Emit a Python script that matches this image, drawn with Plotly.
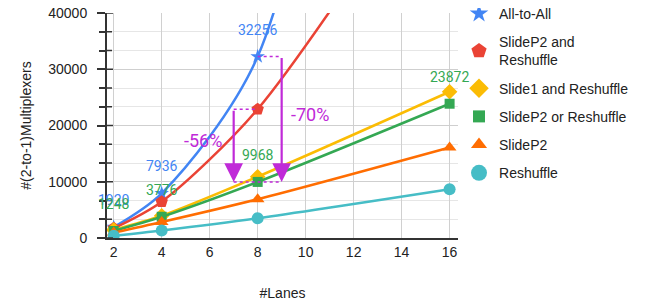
import plotly.graph_objects as go

lanes = [2, 4, 8, 16]
all_to_all = [1920, 7936, 32256, 190000]
slidep2_and_reshuffle = [1728, 6450, 22900, 72000]
slide1_and_reshuffle = [1440, 3950, 10900, 26000]
slidep2_or_reshuffle = [1248, 3776, 9968, 23872]
slidep2 = [960, 2850, 6900, 16100]
reshuffle = [400, 1350, 3500, 8650]

series_names = ["All-to-All", "SlideP2 and<br>Reshuffle", "Slide1 and Reshuffle",
                "SlideP2 or Reshuffle", "SlideP2", "Reshuffle"]
series_values = [all_to_all, slidep2_and_reshuffle, slide1_and_reshuffle,
                 slidep2_or_reshuffle, slidep2, reshuffle]
colors = ["#4285F4", "#EA4335", "#FBBC04", "#34A853", "#FF6D01", "#46BDC6"]
symbols = ["star", "pentagon", "diamond", "square", "triangle-up", "circle"]
msizes = [11, 13, 12, 10, 12, 12]
legend_sizes = [14, 16, 15, 12, 14, 16]

reduction_labels = ["-56%", "-70%"]
y_ticks = [0, 10000, 20000, 30000, 40000]

fig = go.Figure()
for i, (name, vals) in enumerate(zip(series_names, series_values)):
    fig.add_trace(go.Scatter(
        x=lanes, y=vals, name=name, mode="lines+markers",
        line=dict(color=colors[i], width=2.5, shape="spline", smoothing=0.8),
        marker=dict(symbol=symbols[i], size=msizes[i], color=colors[i]),
        showlegend=False, legendgroup=f"g{i}",
    ))
# legend entries (marker only)
for i, name in enumerate(series_names):
    fig.add_trace(go.Scatter(
        x=[None], y=[None], name=name, mode="markers",
        marker=dict(symbol=symbols[i], size=legend_sizes[i], color=colors[i]),
        legendgroup=f"g{i}", hoverinfo="skip",
    ))

ymax = 40000
# data labels
for x, v in zip(lanes, all_to_all):
    if v <= ymax:
        fig.add_annotation(x=x, y=v, text=str(v), showarrow=False, yshift=27,
                           font=dict(family="Roboto", size=14, color=colors[0]))
for x, v in zip(lanes, slidep2_or_reshuffle):
    fig.add_annotation(x=x, y=v, text=str(v), showarrow=False, yshift=27,
                       font=dict(family="Roboto", size=14, color=colors[3]))

purple = "#C02AD8"
x8 = lanes[2]
red8 = slidep2_and_reshuffle[2]
blue8 = all_to_all[2]
green8 = slidep2_or_reshuffle[2]
# dotted guides
fig.add_shape(type="line", x0=x8 - 1, x1=x8, y0=red8, y1=red8,
              line=dict(color=purple, width=1.5, dash="dot"))
fig.add_shape(type="line", x0=x8, x1=x8 + 1, y0=blue8, y1=blue8,
              line=dict(color=purple, width=1.5, dash="dot"))
fig.add_shape(type="line", x0=x8 - 1, x1=x8 + 1, y0=green8, y1=green8,
              line=dict(color=purple, width=1.5, dash="dot"))
# arrows
fig.add_annotation(x=x8 - 1, y=green8, ax=x8 - 1, ay=red8, axref="x", ayref="y",
                   xref="x", yref="y", showarrow=True, arrowhead=2, arrowsize=1.7,
                   arrowwidth=2.2, arrowcolor=purple, text="")
fig.add_annotation(x=x8 + 1, y=green8, ax=x8 + 1, ay=blue8, axref="x", ayref="y",
                   xref="x", yref="y", showarrow=True, arrowhead=2, arrowsize=1.7,
                   arrowwidth=2.2, arrowcolor=purple, text="")
fig.add_annotation(x=5.72, y=17420, text=reduction_labels[0], showarrow=False,
                   font=dict(family="Roboto", size=18, color=purple))
fig.add_annotation(x=10.2, y=21900, text=reduction_labels[1], showarrow=False,
                   font=dict(family="Roboto", size=18, color=purple))

# inner halves of the crossing y-axis ticks (major + minor)
step = y_ticks[1] - y_ticks[0]
inner_ticks = []
for t in y_ticks:
    inner_ticks.append((t, 6))
    if t + step <= ymax:
        inner_ticks.append((t + step / 3, 5))
        inner_ticks.append((t + 2 * step / 3, 5))
for t, ln in inner_ticks:
    fig.add_shape(type="line", xref="paper", yref="y", x0=0, x1=ln / 351, y0=t, y1=t,
                  line=dict(color="#333333", width=1.5), layer="above")

axis_font = dict(family="Liberation Sans, Arial", size=14, color="#222222")
fig.update_layout(
    width=664, height=306,
    margin=dict(l=99, r=214, t=5, b=76, autoexpand=False),
    paper_bgcolor="white", plot_bgcolor="white",
    font=axis_font,
    xaxis=dict(
        range=[1.72, 16.35], tickvals=[2, 4, 6, 8, 10, 12, 14, 16],
        showgrid=True, gridcolor="#d0d0d0", gridwidth=1, zeroline=False,
        showline=True, linecolor="#333333", linewidth=1.5, ticks="",
        title=dict(text="#Lanes", standoff=30, font=axis_font),
        tickfont=axis_font,
    ),
    yaxis=dict(
        range=[0, ymax], tickvals=y_ticks, tickformat="d",
        ticklabeloverflow="allow",
        showgrid=True, gridcolor="#cfcfcf", gridwidth=1, zeroline=False,
        showline=True, linecolor="#333333", linewidth=2,
        ticks="outside", ticklen=8, tickwidth=1.5, tickcolor="#333333",
        ticklabelstandoff=7,
        minor=dict(dtick=10000 / 3, ticks="outside", ticklen=6, tickcolor="#333333",
                   tickwidth=1.5, showgrid=True, gridcolor="#e6e6e6", gridwidth=1),
        title=dict(text="#(2-to-1)Multiplexers", standoff=13, font=axis_font),
        tickfont=axis_font,
    ),
    legend=dict(x=1.0029, y=1.0667, xanchor="left", yanchor="top", maxheight=320,
                font=dict(family="Liberation Sans, Arial", size=14, color="#222222"),
                tracegroupgap=7, bgcolor="rgba(0,0,0,0)"),
    showlegend=True,
)

fig.write_html("out.html")
